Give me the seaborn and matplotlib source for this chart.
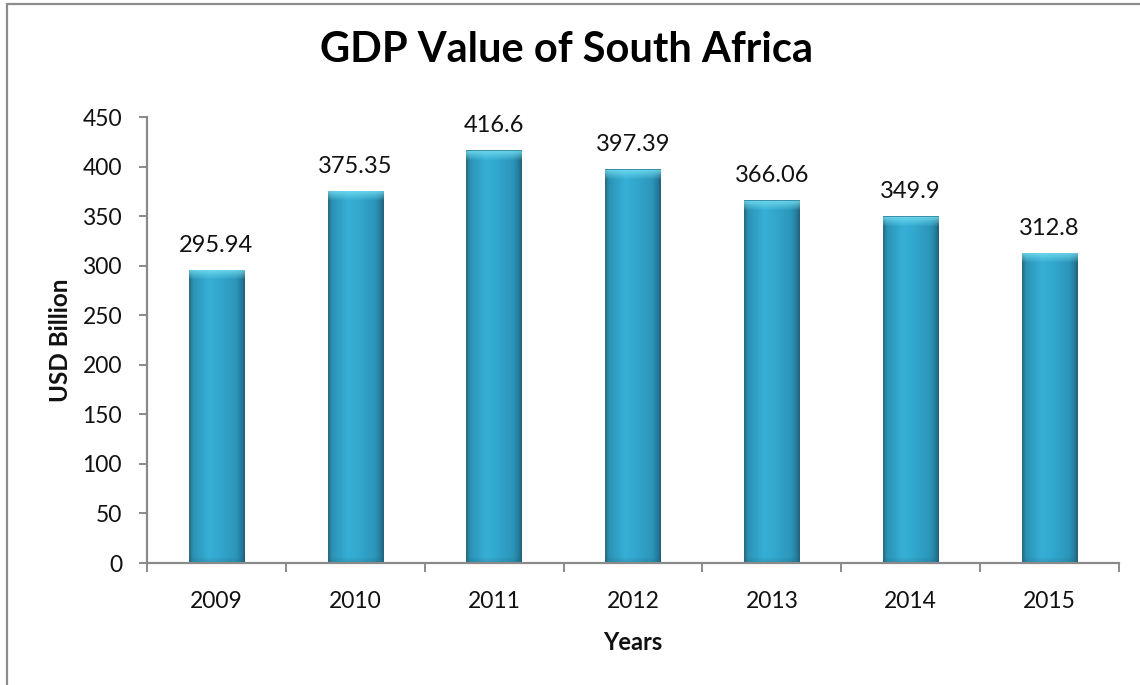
import numpy as np
import pandas as pd
import matplotlib
matplotlib.use("Agg")
import matplotlib.pyplot as plt
import seaborn as sns
from matplotlib.colors import to_rgb
from matplotlib.lines import Line2D

# Data
years = ["2009", "2010", "2011", "2012", "2013", "2014", "2015"]
gdp = [295.94, 375.35, 416.6, 397.39, 366.06, 349.9, 312.8]
value_labels = ["295.94", "375.35", "416.6", "397.39", "366.06", "349.9", "312.8"]
y_ticks = [0, 50, 100, 150, 200, 250, 300, 350, 400, 450]

sns.set_theme(style="white")
plt.rcParams["font.family"] = ["Lato", "DejaVu Sans"]

W, H = 1140, 685
fig = plt.figure(figsize=(W / 100, H / 100), dpi=100)
fig.patch.set_facecolor("white")
ax = fig.add_axes([147 / W, 1 - 563 / H, (1119 - 147) / W, (563 - 117) / H])

df = pd.DataFrame({"Year": years, "GDP": gdp})
sns.barplot(data=df, x="Year", y="GDP", color="#2E9FC4", width=0.4,
            saturation=1, ax=ax, edgecolor="none")

# Bevelled, shaded fill for each bar
def blend(stops, t):
    pos = np.array([p for p, _ in stops])
    cols = np.array([to_rgb(c) for _, c in stops])
    return np.stack([np.interp(t, pos, cols[:, k]) for k in range(3)], axis=-1)

side_stops = [(0.0, "#2a6a80"), (0.07, "#2b93b6"), (0.35, "#36afd6"),
              (0.55, "#33a8ce"), (0.85, "#2b95b9"), (0.94, "#257f9e"), (1.0, "#22627a")]
px_per_unit = 446 / 450
for patch in ax.patches:
    x0, y0 = patch.get_x(), patch.get_y()
    w, h = patch.get_width(), patch.get_height()
    rows = max(int(h * px_per_unit), 2)
    cols = 60
    t = np.linspace(0, 1, cols)
    row_img = blend(side_stops, t)
    img = np.repeat(row_img[None, :, :], rows, axis=0)
    # light bevel along the top edge (row 0 is the top)
    d = np.arange(rows)[:, None]
    top = np.clip(1 - d / 10.0, 0, 1)[..., None] * 0.8
    img = img * (1 - top) + np.array(to_rgb("#7be4f6")) * top
    img[0:1, :, :] = np.array(to_rgb("#3b8fa8"))
    # slight darkening toward the base
    db = (rows - 1 - np.arange(rows))[:, None]
    bot = np.clip(1 - db / 6.0, 0, 1)[..., None] * 0.25
    img = img * (1 - bot) + np.array(to_rgb("#1d5f73")) * bot
    im = ax.imshow(img, extent=(x0, x0 + w, y0, y0 + h), origin="upper",
                   aspect="auto", interpolation="bilinear", zorder=2)
    im.set_clip_path(patch)

ax.bar_label(ax.containers[0], labels=value_labels, padding=10,
             fontsize=17, color="#111111")

ax.set_xlim(-0.5, len(years) - 0.5)
ax.set_ylim(0, 450)
ax.set_yticks(y_ticks)
ax.set_yticklabels([str(v) for v in y_ticks])

# Category boundaries carry the x tick marks
ax.set_xticks(np.arange(-0.5, len(years)), minor=True)
ax.tick_params(axis="x", which="major", length=0, pad=20, labelsize=16.5,
               labelcolor="#111111")
ax.tick_params(axis="x", which="minor", length=6.5, width=1.4, color="#8a8a8a",
               direction="out", bottom=True)
ax.tick_params(axis="y", which="major", length=6, width=1.4, color="#8a8a8a",
               direction="out", left=True, pad=12, labelsize=16.5,
               labelcolor="#111111")

for side in ("top", "right"):
    ax.spines[side].set_visible(False)
for side in ("left", "bottom"):
    ax.spines[side].set_color("#8a8a8a")
    ax.spines[side].set_linewidth(1.6)
ax.grid(False)

ax.set_xlabel("Years", fontsize=17, fontweight="bold", color="#111111", va="center")
ax.xaxis.set_label_coords(0.5, -(642 - 563) / 446)
ax.set_ylabel("USD Billion", fontsize=17.5, fontweight="bold", color="#111111", va="center")
ax.yaxis.set_label_coords((60 - 147) / 972, 0.5)

fig.text(567 / W, 1 - 50 / H, "GDP Value of South Africa", ha="center", va="center",
         fontsize=30, fontweight="bold", color="#000000")

# Chart frame on the top and left edges
fig.add_artist(Line2D([7 / W, 1], [1 - 4 / H, 1 - 4 / H], transform=fig.transFigure,
                      color="#8c8c8c", lw=1.6))
fig.add_artist(Line2D([7 / W, 7 / W], [0, 1 - 4 / H], transform=fig.transFigure,
                      color="#8c8c8c", lw=1.6))

fig.savefig("out.png", dpi=100, facecolor="white")
